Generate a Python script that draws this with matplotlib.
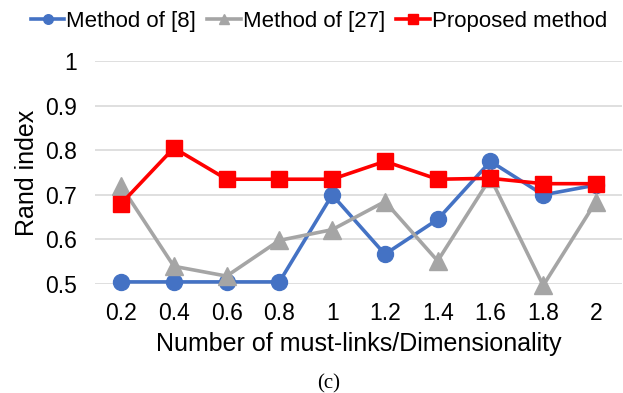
import matplotlib
matplotlib.use("Agg")
import matplotlib.pyplot as plt

plt.rcParams['font.family'] = ['Liberation Sans', 'DejaVu Sans']

ratios = ['0.2', '0.4', '0.6', '0.8', '1', '1.2', '1.4', '1.6', '1.8', '2']
method_8 = [0.505, 0.505, 0.505, 0.505, 0.700, 0.567, 0.645, 0.775, 0.700, 0.722]
method_27 = [0.720, 0.540, 0.518, 0.598, 0.622, 0.685, 0.552, 0.738, 0.497, 0.685]
proposed = [0.680, 0.805, 0.735, 0.735, 0.735, 0.775, 0.735, 0.737, 0.725, 0.725]

y_ticks = [0.5, 0.6, 0.7, 0.8, 0.9, 1.0]
y_labels = ['0.5', '0.6', '0.7', '0.8', '0.9', '1']

fig = plt.figure(figsize=(6.23, 3.93), dpi=100)
ax = fig.add_axes([0.152, 0.277, 0.847, 0.568])

x = range(len(ratios))
ax.plot(x, method_8, color='#4472C4', lw=2.6, marker='o', ms=11.5,
        label='Method of [8]', clip_on=False, zorder=3)
ax.plot(x, method_27, color='#A5A5A5', lw=2.6, marker='^', ms=12.5,
        label='Method of [27]', clip_on=False, zorder=3)
ax.plot(x, proposed, color='#FF0000', lw=2.6, marker='s', ms=12,
        label='Proposed method', clip_on=False, zorder=4)

ax.set_xlim(-0.5, len(ratios) - 0.5)
ax.set_ylim(0.5, 1.0)
ax.set_xticks(list(x))
ax.set_xticklabels(ratios)
ax.set_yticks(y_ticks)
ax.set_yticklabels(y_labels)
ax.tick_params(length=0, labelsize=16.5, colors='#000000')
ax.tick_params(axis='y', pad=13)
ax.tick_params(axis='x', pad=13)

ax.grid(axis='y', color='#D9D9D9', lw=1.2, zorder=0)
for s in ax.spines.values():
    s.set_visible(False)

ax.set_ylabel('Rand index', fontsize=18, labelpad=4)
ax.set_xlabel('Number of must-links/Dimensionality', fontsize=18, labelpad=5)

fig.text(0.527, 0.022, '(c)', ha='center', va='center', fontsize=15,
         family='Liberation Serif')

fig.legend(loc='center', bbox_to_anchor=(0.512, 0.945), ncol=3, frameon=False,
           fontsize=16, handlelength=1.5, handletextpad=0.1, columnspacing=0.5,
           markerscale=0.6)

fig.savefig('out.png', dpi=100)
